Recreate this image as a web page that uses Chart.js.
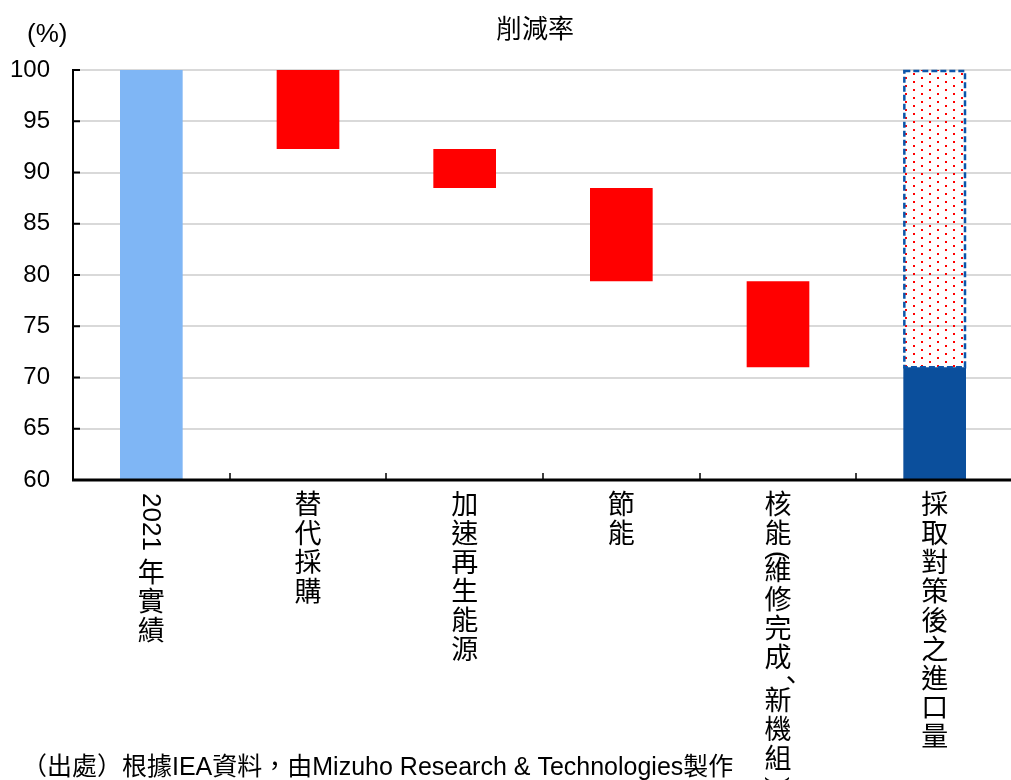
<!DOCTYPE html>
<html>
<head>
<meta charset="utf-8">
<script src="https://cdn.jsdelivr.net/npm/chart.js@4.4.0/dist/chart.umd.min.js"></script>
<style>
  html, body { margin: 0; padding: 0; background: #fff; overflow: hidden; }
  #wrap { width: 1014px; height: 780px; }
</style>
</head>
<body>
<div id="wrap"><canvas id="chart"></canvas></div>
<script>
// data
const categories = ["2021 年實績", "替代採購", "加速再生能源", "節能", "核能(維修完成、新機組)", "採取對策後之進口量"];
const barStart = [60, 92.3, 88.5, 79.4, 71.0, 60];
const barEnd = [100, 100, 92.3, 88.5, 79.4, 71.0];
const dotStart = [null, null, null, null, null, 71.0];
const dotEnd = [null, null, null, null, null, 100];
const yTicks = [60, 65, 70, 75, 80, 85, 90, 95, 100];
const barColors = ["#7fb6f5", "#ff0000", "#ff0000", "#ff0000", "#ff0000", "#0b4f9c"];

const chartTitle = "削減率";
const unitText = "(%)";
const sourceText = "（出處）根據IEA資料，由Mizuho Research & Technologies製作";

const cjk = '"Noto Sans CJK TC", "Noto Sans CJK JP", sans-serif';
const latin = '"Liberation Sans", Arial, "Noto Sans CJK TC", sans-serif';

// red dot pattern for the remaining import part
function dotPattern() {
    const p = document.createElement("canvas");
    p.width = 16;
    p.height = 8;
    const c = p.getContext("2d");
    c.fillStyle = "#ff0000";
    c.fillRect(1, 1, 2, 2);
    c.fillRect(9, 5, 2, 2);
    return document.getElementById("chart").getContext("2d").createPattern(p, "repeat");
}

// stacked vertical text: CJK upright, digits and brackets turned sideways
function drawVertical(ctx, text, x, y) {
    const pitch = 29;
    const sideways = /[0-9A-Za-z()]/;
    let cy = y;
    let i = 0;
    while (i < text.length) {
        const ch = text[i];
        if (sideways.test(ch)) {
            let run = "";
            while (i < text.length && sideways.test(text[i])) { run += text[i]; i++; }
            ctx.save();
            ctx.font = "26px " + latin;
            ctx.translate(x, cy);
            ctx.rotate(Math.PI / 2);
            ctx.textAlign = "left";
            ctx.textBaseline = "middle";
            ctx.fillText(run, 0, 1);
            cy += ctx.measureText(run).width;
            ctx.restore();
            continue;
        }
        ctx.font = "27px " + cjk;
        ctx.textAlign = "center";
        if (ch === " ") {
            cy += 10;
        } else if (ch === "、") {
            // vertical comma sits top-right, just under the previous char
            ctx.textBaseline = "middle";
            ctx.fillText(ch, x + 13, cy + 4);
            cy += 14;
        } else {
            ctx.textBaseline = "top";
            ctx.fillText(ch, x, cy - 3);
            cy += pitch;
        }
        i++;
    }
}

const extras = {
    id: "extras",
    afterDatasetsDraw(chart) {
        const ctx = chart.ctx;
        // dashed outline around the dotted bar
        const meta = chart.getDatasetMeta(1);
        meta.data.forEach((bar, i) => {
            if (dotEnd[i] == null) return;
            const p = bar.getProps(["x", "y", "base", "width"], true);
            const top = Math.min(p.y, p.base), bot = Math.max(p.y, p.base);
            ctx.save();
            ctx.strokeStyle = "#0b55aa";
            ctx.lineWidth = 2.5;
            ctx.setLineDash([6, 3]);
            ctx.strokeRect(p.x - p.width / 2 + 1, top + 1, p.width - 2, bot - top - 1);
            ctx.restore();
        });
    },
    afterDraw(chart) {
        const ctx = chart.ctx;
        const area = chart.chartArea;
        const x = chart.scales.x, y = chart.scales.y;
        ctx.save();
        ctx.fillStyle = "#000";
        ctx.strokeStyle = "#000";

        // axis lines and inner tick marks
        ctx.lineWidth = 2;
        ctx.beginPath();
        ctx.moveTo(area.left, area.top - 1);
        ctx.lineTo(area.left, area.bottom);
        yTicks.forEach(v => {
            const py = y.getPixelForValue(v);
            ctx.moveTo(area.left, py);
            ctx.lineTo(area.left + 7, py);
        });
        ctx.stroke();
        ctx.lineWidth = 3;
        ctx.beginPath();
        ctx.moveTo(area.left - 1, area.bottom);
        ctx.lineTo(area.right, area.bottom);
        ctx.stroke();
        ctx.lineWidth = 1.5;
        ctx.beginPath();
        for (let i = 0; i < categories.length - 1; i++) {
            const px = Math.round((x.getPixelForValue(i) + x.getPixelForValue(i + 1)) / 2);
            ctx.moveTo(px, area.bottom);
            ctx.lineTo(px, area.bottom - 7);
        }
        ctx.stroke();

        // title, unit and source
        ctx.font = "26px " + cjk;
        ctx.textAlign = "center";
        ctx.textBaseline = "middle";
        ctx.fillText(chartTitle, 535, 28);
        ctx.font = "26px " + latin;
        ctx.textAlign = "left";
        ctx.fillText(unitText, 27, 35);
        ctx.font = "25px " + latin;
        ctx.textBaseline = "alphabetic";
        ctx.fillText(sourceText, 22, 775);

        // vertical category labels
        categories.forEach((c, i) => drawVertical(ctx, c, x.getPixelForValue(i), 493));
        ctx.restore();
    }
};

new Chart(document.getElementById("chart"), {
    type: "bar",
    data: {
        labels: categories,
        datasets: [
            {
                data: barStart.map((s, i) => [s, barEnd[i]]),
                backgroundColor: barColors,
                borderWidth: 0,
                barPercentage: 0.8,
                categoryPercentage: 0.5,
                grouped: false,
                order: 2
            },
            {
                data: dotStart.map((s, i) => (s == null ? null : [s, dotEnd[i]])),
                backgroundColor: dotPattern(),
                borderWidth: 0,
                barPercentage: 0.8,
                categoryPercentage: 0.5,
                grouped: false,
                order: 1
            }
        ]
    },
    options: {
        responsive: true,
        maintainAspectRatio: false,
        animation: false,
        layout: { padding: { top: 70, right: 1, left: 0, bottom: 0 } },
        plugins: {
            legend: { display: false },
            tooltip: { enabled: false },
            title: { display: false }
        },
        scales: {
            x: {
                grid: { display: false, drawTicks: false },
                border: { display: false },
                ticks: { display: false },
                afterFit(scale) { scale.height = 300; }
            },
            y: {
                min: 60,
                max: 100,
                afterBuildTicks(scale) { scale.ticks = yTicks.map(v => ({ value: v })); },
                grid: { color: "#d9d9d9", lineWidth: 2, drawTicks: false },
                border: { display: false },
                ticks: {
                    color: "#000",
                    padding: 23,
                    font: { family: latin, size: 24 }
                },
                afterFit(scale) { scale.width = 73; }
            }
        }
    },
    plugins: [extras]
});
</script>
</body>
</html>
